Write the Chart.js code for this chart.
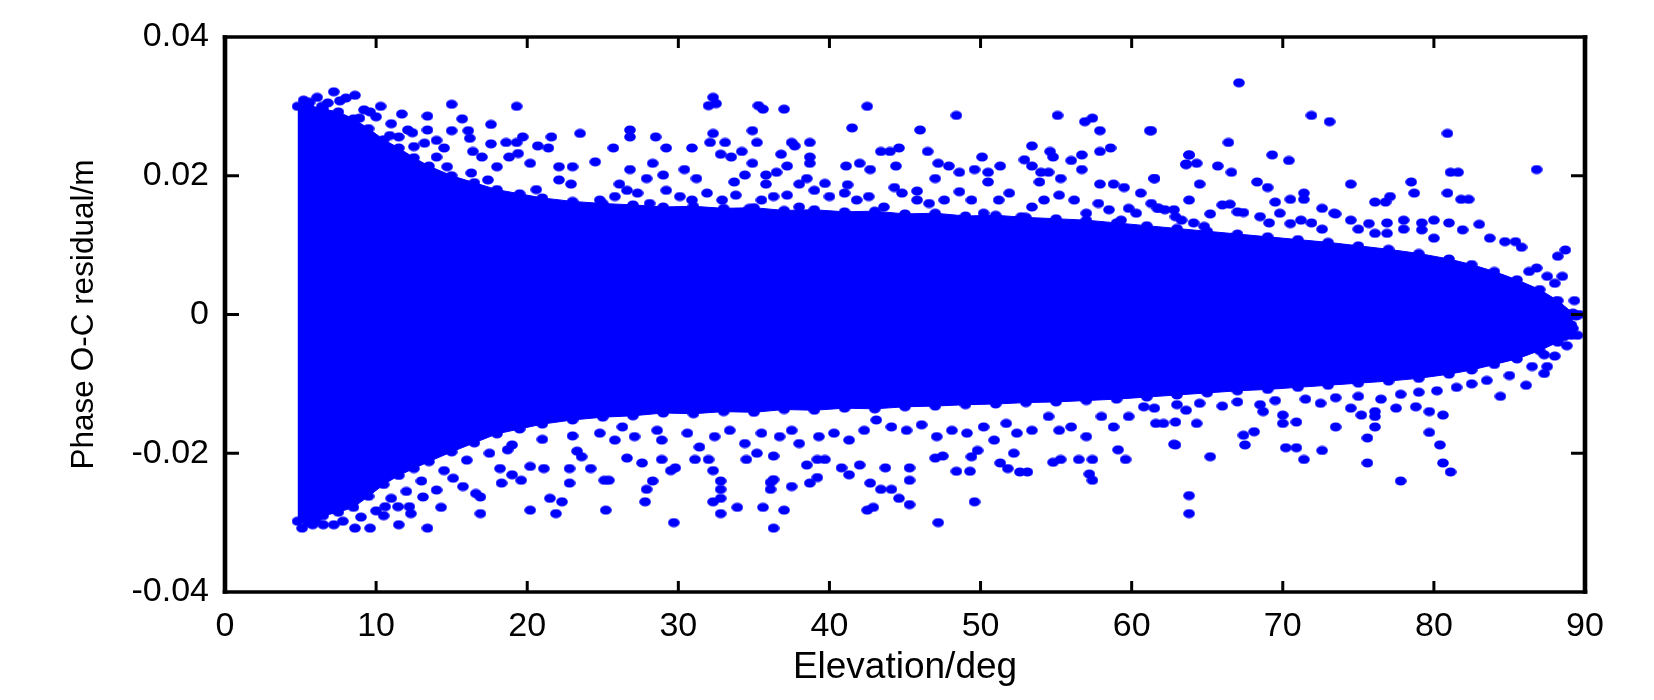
<!DOCTYPE html>
<html><head><meta charset="utf-8">
<script src="https://cdn.jsdelivr.net/npm/chart.js@4.4.1/dist/chart.umd.min.js"></script>
<style>html,body{margin:0;padding:0;background:#fff;}#wrap{width:1654px;height:700px;}</style>
</head><body><div id="wrap"><canvas id="c" width="1654" height="700"></canvas></div>
<script>
// ---- tick labels ----
const xTicks = [0, 10, 20, 30, 40, 50, 60, 70, 80, 90];
const yTicks = [-0.04, -0.02, 0, 0.02, 0.04];

// ---- outline of the solid (saturated) part of the point cloud ----
const envElev  = [4.8, 5.5, 6.5, 7.5, 8.5, 9.5, 10.5, 11.5, 12.5, 13.5, 15, 16.5, 18, 19.5, 21, 23, 25, 27, 29, 31, 33, 35, 37, 39, 41, 43, 45, 47, 49, 51, 53, 55, 57, 59, 61, 63, 65, 67, 69, 71, 73, 75, 77, 79, 81, 82.5, 84, 85.5, 87, 88.2, 89.2];
const envUpper = [0.0300, 0.0302, 0.0296, 0.0292, 0.0282, 0.0268, 0.0252, 0.0240, 0.0226, 0.0214, 0.0200, 0.0190, 0.0180, 0.0174, 0.0168, 0.0163, 0.0160, 0.0158, 0.0155, 0.0156, 0.0153, 0.0154, 0.0150, 0.0151, 0.0148, 0.0149, 0.0145, 0.0146, 0.0142, 0.0143, 0.0140, 0.0138, 0.0136, 0.0132, 0.0128, 0.0124, 0.0120, 0.0116, 0.0112, 0.0108, 0.0104, 0.0099, 0.0094, 0.0088, 0.0080, 0.0072, 0.0062, 0.0050, 0.0036, 0.0020, 0.0002];
const envLower = [-0.0298, -0.0300, -0.0290, -0.0285, -0.0278, -0.0262, -0.0245, -0.0232, -0.0222, -0.0212, -0.0198, -0.0185, -0.0172, -0.0165, -0.0158, -0.0152, -0.0148, -0.0146, -0.0142, -0.0143, -0.0140, -0.0141, -0.0137, -0.0138, -0.0135, -0.0136, -0.0133, -0.0132, -0.0130, -0.0129, -0.0127, -0.0126, -0.0124, -0.0122, -0.0119, -0.0116, -0.0113, -0.0110, -0.0108, -0.0105, -0.0102, -0.0099, -0.0096, -0.0092, -0.0086, -0.0080, -0.0072, -0.0064, -0.0052, -0.0040, -0.0020];

// ---- individual points above the solid cloud: [elevation deg, residual m] ----
const upperPoints = [
 [7.2,0.0321],[6.1,0.0313],[5.2,0.0309],[8.6,0.0316],[8.0,0.0312],[10.3,0.0300],[11.7,0.0289],[13.4,0.0286],[15.0,0.0303],[15.7,0.0282],
 [19.3,0.0300],[17.6,0.0274],[15.0,0.0265],[13.4,0.0266],[16.1,0.0265],[16.2,0.0254],[16.4,0.0235],[17.6,0.0246],[18.6,0.0248],[19.3,0.0248],
 [19.7,0.0256],[20.7,0.0243],[21.4,0.0240],[21.6,0.0256],[23.5,0.0261],[22.1,0.0213],[23.0,0.0213],[22.1,0.0194],[22.9,0.0188],[24.5,0.0220],
 [20.6,0.0180],[20.2,0.0218],[19.4,0.0232],[18.8,0.0227],[18.0,0.0213],[17.0,0.0227],[14.0,0.0227],[13.2,0.0247],[14.0,0.0251],[12.5,0.0242],
 [12.1,0.0266],[11.5,0.0256],[10.9,0.0258],[9.6,0.0292],[8.9,0.0283],[14.7,0.0213],[16.3,0.0204],[17.4,0.0194],
 [6.8,0.0305],[7.6,0.0308],[9.2,0.0295],[10.0,0.0285],[11.0,0.0275],[12.4,0.0262],[14.5,0.0240],[5.6,0.0306],[6.4,0.0300],
 [32.3,0.0313],[32.0,0.0301],[32.5,0.0304],[35.3,0.0301],[35.6,0.0296],[37.0,0.0296],[42.5,0.0300],[41.5,0.0269],[46.0,0.0266],[48.4,0.0287],
 [55.1,0.0287],[56.9,0.0278],[57.4,0.0283],[57.9,0.0265],[61.2,0.0265],[26.8,0.0266],[26.8,0.0256],[28.5,0.0256],[25.7,0.0240],[29.2,0.0240],
 [30.9,0.0240],[32.3,0.0261],[32.1,0.0248],[33.1,0.0248],[34.2,0.0235],[34.9,0.0265],[35.2,0.0248],[33.5,0.0227],[32.8,0.0231],[37.5,0.0248],
 [37.7,0.0243],[38.7,0.0248],[38.7,0.0227],[38.7,0.0218],[36.8,0.0231],[37.2,0.0214],[34.9,0.0218],[28.3,0.0218],[26.8,0.0209],[29.0,0.0201],
 [30.4,0.0209],[33.7,0.0191],[34.4,0.0201],[35.8,0.0201],[36.5,0.0205],[38.5,0.0196],[41.1,0.0214],[42.0,0.0218],[42.7,0.0209],[43.4,0.0235],
 [44.0,0.0235],[44.6,0.0240],[44.4,0.0214],[46.5,0.0235],[47.2,0.0218],[47.9,0.0214],[50.1,0.0227],[48.6,0.0205],[49.6,0.0209],[51.3,0.0214],
 [50.5,0.0205],[52.9,0.0223],[53.4,0.0243],[53.4,0.0214],[54.6,0.0235],[54.8,0.0227],[56.0,0.0222],[56.7,0.0230],[57.9,0.0235],[58.6,0.0240],
 [56.7,0.0209],[54.0,0.0205],[54.5,0.0205],[63.8,0.0230],[63.6,0.0216],[61.5,0.0196],[58.8,0.0188],[59.5,0.0183],[60.6,0.0175],[57.9,0.0188],
 [55.3,0.0196],[53.9,0.0191],[50.5,0.0191],[45.8,0.0178],[47.0,0.0196],[39.7,0.0189],[41.2,0.0187],[44.3,0.0183],[27.9,0.0196],[26.1,0.0188],
 [31.2,0.0196],[35.8,0.0188],[38.0,0.0188],[59.8,0.0153],[61.8,0.0153],
 [24.8,0.0165],[25.8,0.0170],[26.6,0.0179],[27.3,0.0175],[28.1,0.0160],[29.2,0.0179],[30.1,0.0170],[30.9,0.0165],[31.9,0.0175],[32.9,0.0165],
 [33.8,0.0172],[34.7,0.0153],[35.5,0.0165],[36.3,0.0170],[37.2,0.0172],[38.0,0.0155],[39.0,0.0179],[40.0,0.0170],[41.0,0.0175],[41.8,0.0165],
 [42.6,0.0170],[43.6,0.0155],[44.8,0.0175],[45.8,0.0165],[46.6,0.0160],[47.6,0.0165],[48.6,0.0177],[49.4,0.0165],[50.2,0.0146],[51.2,0.0165],
 [51.9,0.0175],[52.7,0.0141],[53.4,0.0155],[54.2,0.0165],[55.2,0.0172],[56.2,0.0165],[57.0,0.0146],[57.8,0.0160],[58.5,0.0151],[59.3,0.0136],
 [60.3,0.0146],[61.3,0.0160],[62.8,0.0151],[63.8,0.0165],
 [67.1,0.0334],[71.9,0.0287],[73.1,0.0278],[80.9,0.0261],[86.8,0.0209],[61.3,0.0265],[66.4,0.0248],[63.8,0.0230],[63.6,0.0217],[64.3,0.0218],
 [65.7,0.0214],[66.6,0.0205],[69.3,0.0230],[70.4,0.0222],[64.5,0.0188],[61.5,0.0196],[68.3,0.0191],[69.0,0.0183],[74.5,0.0188],[78.5,0.0191],
 [78.7,0.0175],[81.1,0.0205],[81.6,0.0205],[80.9,0.0175],[81.8,0.0166],[82.3,0.0166],[77.1,0.0170],[76.1,0.0162],[76.8,0.0162],[71.4,0.0175],
 [71.4,0.0166],[70.5,0.0166],[72.6,0.0153],[73.5,0.0145],[69.5,0.0162],[65.2,0.0145],[80.0,0.0136],[83.0,0.0130],
 [61.7,0.0153],[62.2,0.0151],[62.9,0.0141],[63.3,0.0136],[64.1,0.0132],[64.8,0.0127],[66.0,0.0158],[66.5,0.0159],[67.0,0.0148],[67.4,0.0147],
 [68.5,0.0141],[69.1,0.0132],[69.8,0.0146],[70.5,0.0131],[71.2,0.0136],[71.9,0.0132],[72.6,0.0123],[73.4,0.0146],[74.5,0.0136],[75.0,0.0123],
 [75.7,0.0131],[76.1,0.0117],[76.9,0.0132],[76.9,0.0117],[78.0,0.0136],[78.0,0.0123],[79.2,0.0132],[79.2,0.0122],[80.0,0.0110],[81.0,0.0132],
 [81.9,0.0122],[83.7,0.0110],[84.7,0.0105],[85.4,0.0105],[85.8,0.0097],[86.3,0.0062],[86.8,0.0067],[87.5,0.0055],[88.0,0.0045],[88.5,0.0055],
 [88.7,0.0093],[88.2,0.0084],[88.1,0.0019],[89.4,-0.0002],[89.1,-0.0015],[88.6,-0.0032],[89.1,-0.0030]
];

// ---- individual points below the solid cloud: [elevation deg, residual m] ----
const lowerPoints = [
 [5.1,-0.0308],[5.8,-0.0303],[6.5,-0.0303],[7.2,-0.0303],[8.6,-0.0308],[9.6,-0.0308],[11.5,-0.0303],[13.4,-0.0308],[16.9,-0.0287],[14.3,-0.0278],
 [12.3,-0.0287],[20.2,-0.0282],[21.5,-0.0265],[21.9,-0.0287],[22.3,-0.0270],[22.8,-0.0243],[24.2,-0.0222],[21.1,-0.0222],[20.2,-0.0219],[19.6,-0.0239],
 [18.3,-0.0243],[19.0,-0.0231],[18.7,-0.0195],[18.2,-0.0222],[16.6,-0.0258],[16.9,-0.0263],[15.75,-0.0248],[15.1,-0.0236],[14.0,-0.0253],[13.1,-0.0263],
 [11.45,-0.0277],[12.2,-0.0277],[10.6,-0.0277],[10.5,-0.0290],[23.6,-0.0205],[22.8,-0.0222],[23.3,-0.0197],
 [6.0,-0.0296],[7.8,-0.0298],[9.0,-0.0292],[10.0,-0.0283],[11.0,-0.0265],[12.0,-0.0255],[13.0,-0.0240],[14.5,-0.0225],[16.0,-0.0210],[17.5,-0.0200],
 [19.0,-0.0188],[21.0,-0.0180],[23.0,-0.0175],
 [29.7,-0.0300],[36.3,-0.0308],[47.2,-0.0300],[25.2,-0.0282],[27.8,-0.0270],[32.8,-0.0287],[33.9,-0.0278],[35.6,-0.0278],[37.0,-0.0282],[42.5,-0.0282],
 [42.9,-0.0278],[45.3,-0.0274],[49.6,-0.0270],[32.3,-0.0270],[32.8,-0.0265],[32.8,-0.0252],[32.8,-0.0240],[27.9,-0.0252],[28.3,-0.0240],[25.1,-0.0239],
 [25.4,-0.0239],[29.5,-0.0225],[29.8,-0.0221],[32.3,-0.0225],[36.1,-0.0242],[36.3,-0.0238],[36.1,-0.0252],[37.5,-0.0248],[38.7,-0.0243],[39.2,-0.0235],
 [42.7,-0.0243],[43.4,-0.0252],[44.1,-0.0252],[44.6,-0.0265],[45.3,-0.0239],[45.3,-0.0221],[43.7,-0.0221],[40.8,-0.0221],[41.3,-0.0231],[42.0,-0.0217],
 [38.5,-0.0217],[39.2,-0.0209],[39.7,-0.0209],[49.3,-0.0226],[48.4,-0.0226],[47.0,-0.0207],[47.5,-0.0204],[49.4,-0.0205],[49.8,-0.0196],[51.3,-0.0214],
 [51.8,-0.0222],[52.2,-0.0200],[52.6,-0.0227],[53.1,-0.0227],[54.8,-0.0213],[55.3,-0.0209],[56.5,-0.0209],[57.4,-0.0209],[57.2,-0.0230],[57.4,-0.0239],
 [59.1,-0.0195],[59.6,-0.0209],[62.8,-0.0187],[63.8,-0.0261],[63.8,-0.0287],[27.6,-0.0214],[28.9,-0.0209],[26.6,-0.0207],[31.1,-0.0209],[32.0,-0.0209],
 [34.5,-0.0209],[35.2,-0.0200],[36.3,-0.0204],
 [24.8,-0.0171],[25.8,-0.0181],[26.3,-0.0162],[27.1,-0.0176],[28.6,-0.0167],[28.9,-0.0181],[30.6,-0.0171],[31.4,-0.0191],[32.4,-0.0176],[33.4,-0.0167],
 [34.4,-0.0186],[35.5,-0.0171],[36.7,-0.0176],[37.5,-0.0167],[38.0,-0.0186],[39.3,-0.0176],[40.3,-0.0171],[41.3,-0.0181],[42.3,-0.0167],[43.1,-0.0152],
 [44.1,-0.0162],[45.1,-0.0167],[46.1,-0.0159],[47.1,-0.0176],[48.1,-0.0167],[49.1,-0.0171],[50.2,-0.0162],[50.9,-0.0181],[51.7,-0.0157],[52.4,-0.0171],
 [53.4,-0.0167],[54.5,-0.0147],[55.2,-0.0167],[56.0,-0.0162],[57.0,-0.0176],[58.0,-0.0147],[58.8,-0.0162],[59.8,-0.0147],[60.8,-0.0133],[62.1,-0.0157],
 [63.6,-0.0138],
 [62.9,-0.0188],[65.2,-0.0205],[67.5,-0.0188],[68.1,-0.0169],[67.4,-0.0174],[70.2,-0.0192],[70.9,-0.0192],[71.4,-0.0209],[72.6,-0.0196],[73.5,-0.0162],
 [75.6,-0.0178],[75.6,-0.0214],[76.1,-0.0162],[76.1,-0.0147],[76.1,-0.0140],[75.2,-0.0145],[77.8,-0.0240],[79.7,-0.0170],[80.4,-0.0188],[80.6,-0.0214],
 [81.1,-0.0227],[80.6,-0.0145],[79.7,-0.0140],[84.4,-0.0118],[86.1,-0.0102],[87.3,-0.0085],[87.5,-0.0075],[87.3,-0.0058],[70.0,-0.0145],[70.0,-0.0157],
 [70.9,-0.0155],[74.5,-0.0135],[68.7,-0.0140],[62.9,-0.0155],[64.3,-0.0157],[61.6,-0.0157],[78.8,-0.0133],[77.5,-0.0135],
 [61.5,-0.0135],[63.0,-0.0130],[64.5,-0.0128],[66.0,-0.0132],[67.0,-0.0126],[68.5,-0.0130],[69.5,-0.0124],[71.5,-0.0122],[72.5,-0.0128],[73.5,-0.0120],
 [75.0,-0.0118],[76.5,-0.0122],[77.8,-0.0115],[79.0,-0.0112],[80.2,-0.0110],[81.5,-0.0105],[82.5,-0.0100],[83.5,-0.0095],[85.0,-0.0088],[86.5,-0.0075],
 [88.0,-0.0060],[88.8,-0.0045],[89.5,-0.0030],[89.6,0.0000],[89.3,0.0020]
];

const BLUE = '#0000ff';
const FONT = "'Liberation Sans', Arial, sans-serif";

// elliptical marker (the figure is slightly stretched horizontally)
const dot = document.createElement('canvas');
dot.width = 12; dot.height = 10;
(function(){ const g = dot.getContext('2d'); g.fillStyle = BLUE; g.beginPath(); g.ellipse(6, 5, 5.8, 4.6, 0, 0, Math.PI * 2); g.fill(); })();

const toXY = arr => arr.map(p => ({x: p[0], y: p[1]}));

const framePlugin = {
  id: 'frame',
  afterDraw(chart) {
    const ctx = chart.ctx, a = chart.chartArea, sx = chart.scales.x, sy = chart.scales.y;
    ctx.save();
    ctx.strokeStyle = '#000';
    ctx.lineCap = 'butt';
    ctx.lineWidth = 3;
    xTicks.forEach(v => {
      if (v === xTicks[0] || v === xTicks[xTicks.length - 1]) return;
      const px = sx.getPixelForValue(v);
      ctx.beginPath(); ctx.moveTo(px, a.bottom); ctx.lineTo(px, a.bottom - 11); ctx.stroke();
      ctx.beginPath(); ctx.moveTo(px, a.top); ctx.lineTo(px, a.top + 11); ctx.stroke();
    });
    yTicks.forEach(v => {
      if (v === yTicks[0] || v === yTicks[yTicks.length - 1]) return;
      const py = sy.getPixelForValue(v);
      ctx.beginPath(); ctx.moveTo(a.left, py); ctx.lineTo(a.left + 14, py); ctx.stroke();
      ctx.beginPath(); ctx.moveTo(a.right, py); ctx.lineTo(a.right - 14, py); ctx.stroke();
    });
    ctx.lineWidth = 3.6;
    ctx.beginPath(); ctx.moveTo(a.left - 2.3, a.top); ctx.lineTo(a.right + 2.3, a.top); ctx.stroke();
    ctx.beginPath(); ctx.moveTo(a.left - 2.3, a.bottom); ctx.lineTo(a.right + 2.3, a.bottom); ctx.stroke();
    ctx.lineWidth = 4.6;
    ctx.beginPath(); ctx.moveTo(a.left, a.top - 1.8); ctx.lineTo(a.left, a.bottom + 1.8); ctx.stroke();
    ctx.beginPath(); ctx.moveTo(a.right, a.top - 1.8); ctx.lineTo(a.right, a.bottom + 1.8); ctx.stroke();
    ctx.restore();
  }
};

const pointDs = (data) => ({
  type: 'scatter', data: toXY(data), pointStyle: dot, pointRadius: 5, pointHoverRadius: 5,
  backgroundColor: BLUE, borderColor: BLUE, showLine: false, clip: false
});

new Chart(document.getElementById('c'), {
  type: 'scatter',
  data: {
    datasets: [
      { type: 'line', data: envElev.map((x, i) => ({x, y: envUpper[i]})), fill: '+1', backgroundColor: BLUE,
        borderColor: BLUE, borderWidth: 1, tension: 0, pointStyle: dot, pointRadius: 5, clip: false },
      { type: 'line', data: envElev.map((x, i) => ({x, y: envLower[i]})), fill: false, backgroundColor: BLUE,
        borderColor: BLUE, borderWidth: 1, tension: 0, pointStyle: dot, pointRadius: 5, clip: false },
      pointDs(upperPoints),
      pointDs(lowerPoints)
    ]
  },
  options: {
    responsive: false, devicePixelRatio: 1, animation: false,
    layout: { padding: { left: 0, right: 69, top: 37, bottom: 0 } },
    plugins: { legend: { display: false }, tooltip: { enabled: false } },
    scales: {
      x: {
        type: 'linear', min: 0, max: 90,
        afterBuildTicks: s => { s.ticks = xTicks.map(v => ({value: v})); },
        afterFit: s => { s.height = 108; },
        grid: { display: false, drawTicks: false }, border: { display: false },
        ticks: { autoSkip: false, maxRotation: 0, padding: 14, color: '#000',
                 font: { family: FONT, size: 34 }, callback: v => String(v) },
        title: { display: true, text: 'Elevation/deg', color: '#000',
                 font: { family: FONT, size: 37 }, padding: { top: 0, bottom: 10 } }
      },
      y: {
        type: 'linear', min: -0.04, max: 0.04,
        afterBuildTicks: s => { s.ticks = yTicks.map(v => ({value: v})); },
        afterFit: s => { s.width = 225; },
        grid: { display: false, drawTicks: false }, border: { display: false },
        ticks: { autoSkip: false, padding: 16, color: '#000',
                 font: { family: FONT, size: 34 }, callback: v => (v === 0 ? '0' : v.toFixed(2)) },
        title: { display: true, text: 'Phase O-C residual/m', color: '#000',
                 font: { family: FONT, size: 31.5 }, padding: { top: 65, bottom: 0 } }
      }
    }
  },
  plugins: [framePlugin]
});
</script>
</body></html>
